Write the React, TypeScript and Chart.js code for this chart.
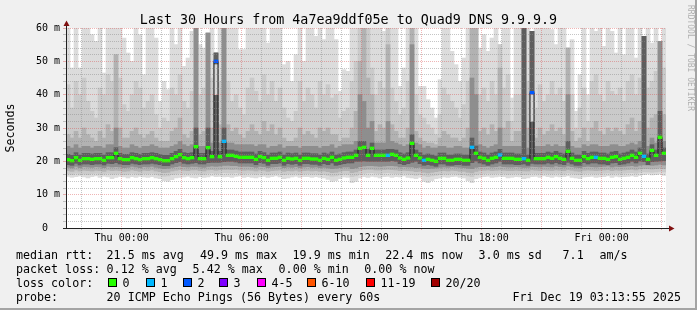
import React, { useEffect, useRef } from 'react';
import { Chart, registerables } from 'chart.js';

Chart.register(...registerables);

// time axis: minutes relative to Thu 00:00 (graph spans Wed 21:13 .. Fri 03:13)
const START_MIN = -167;
const END_MIN = 1633;
const STEP_MIN = 12;

// median rtt per 12-minute column (ms)
const MEDIAN = [
  20.5, 20.2, 21.1, 20.3, 20.8, 20.8, 20.6, 20.8, 20.8, 20.3,
  21.1, 21.1, 22.4, 20.8, 20.5, 20.5, 21.1, 20.8, 20.5, 20.8,
  20.8, 21.1, 20.8, 20.5, 20.2, 20.2, 20.8, 21.4, 22.0, 21.1,
  20.8, 21.1, 24.4, 20.8, 20.8, 24.1, 21.4, 50.0, 21.4, 26.0,
  21.8, 21.8, 21.5, 21.2, 21.2, 21.2, 21.2, 20.6, 21.4, 21.1,
  20.3, 20.9, 20.9, 21.2, 20.3, 20.9, 20.7, 20.9, 20.3, 20.9,
  20.9, 20.7, 20.7, 20.3, 20.9, 20.6, 21.2, 20.3, 20.6, 21.0,
  21.2, 21.2, 21.8, 23.9, 24.2, 21.8, 23.9, 21.8, 21.8, 21.8,
  21.8, 22.1, 21.8, 21.0, 20.6, 21.0, 25.4, 21.8, 21.0, 20.3,
  20.6, 20.3, 20.0, 20.9, 20.9, 20.3, 20.3, 20.6, 20.6, 20.3,
  20.3, 24.2, 22.4, 21.2, 20.9, 20.3, 20.9, 21.2, 21.9, 20.9,
  20.9, 20.9, 20.6, 20.6, 20.8, 20.3, 40.6, 20.8, 20.8, 20.8,
  21.2, 20.9, 21.4, 20.9, 20.6, 23.0, 20.9, 20.3, 20.3, 21.4,
  20.8, 21.2, 21.2, 20.9, 20.9, 20.6, 21.2, 21.4, 20.6, 20.9,
  21.2, 21.8, 21.2, 22.4, 21.5, 20.6, 23.3, 21.8, 27.2, 22.4,
];

// lost pings (of 20) per column
const LOSS = [
  0, 0, 0, 0, 0, 0, 0, 0, 0, 0,
  0, 0, 0, 0, 0, 0, 0, 0, 0, 0,
  0, 0, 0, 0, 0, 0, 0, 0, 0, 0,
  0, 0, 0, 0, 0, 0, 0, 2, 0, 1,
  0, 0, 0, 0, 0, 0, 0, 0, 0, 0,
  0, 0, 0, 0, 0, 0, 0, 0, 0, 0,
  0, 0, 0, 0, 0, 0, 0, 0, 0, 0,
  0, 0, 0, 0, 0, 0, 0, 0, 0, 0,
  1, 0, 0, 0, 0, 0, 0, 0, 0, 1,
  0, 0, 0, 0, 0, 0, 0, 0, 0, 0,
  0, 1, 0, 0, 0, 0, 0, 0, 1, 0,
  0, 0, 0, 0, 1, 0, 2, 0, 0, 0,
  0, 0, 0, 0, 0, 0, 0, 0, 0, 0,
  0, 0, 1, 0, 0, 0, 0, 0, 0, 0,
  0, 0, 0, 0, 1, 0, 0, 0, 0, 0,
];

// smoke: highest ping per column (values above 60 are off the chart)
const SMOKE_HI1 = [
  62, 48, 62, 48, 62, 62, 58, 56, 62, 46.5,
  62, 62, 62, 62, 57, 52.5, 50, 62, 58, 46,
  62, 62, 57, 38, 44, 41.5, 62, 55, 62, 48.5,
  51, 59, 62, 55, 54, 58.5, 62, 52.5, 62, 62,
  62, 62, 62, 53.5, 53.5, 62, 62, 62, 62, 62,
  55.5, 62, 62, 62, 49, 50, 44, 52, 62, 50,
  62, 62, 57.5, 62, 56.5, 62, 62, 56.5, 41, 47.5,
  47, 62, 62, 62, 62, 62, 62, 62, 62, 59,
  62, 62, 62, 42.5, 48, 62, 62, 62, 42.5, 42.5,
  38.5, 36, 33, 44.5, 62, 62, 53, 49, 44, 51,
  62, 62, 62, 54, 58, 53, 57, 62, 55, 62,
  62, 39, 62, 62, 62, 62, 59, 62, 62, 62,
  62, 59.5, 55, 62, 62, 54, 56.5, 35, 46, 62,
  40, 62, 59, 62, 54.5, 62, 59, 52.5, 62, 52,
  62, 62, 51, 62, 57.5, 62, 55.5, 62, 56, 62,
];
const SMOKE_HI2 = [
  43, 36, 44, 40, 45, 38, 35, 33, 42, 40,
  46, 44, 52, 45, 37, 35, 40, 44, 42, 36,
  38, 40, 34, 30, 33, 32, 42, 40, 46, 38,
  36, 41, 62, 40, 42, 58.5, 45, 52.5, 44, 62,
  44, 38, 40, 36, 34, 42, 45, 41, 38, 46,
  40, 44, 38, 42, 36, 33, 32, 35, 44, 38,
  42, 40, 36, 44, 40, 43, 39, 40, 33, 35,
  36, 44, 50, 62, 62, 62, 48, 40, 44, 42,
  62, 42, 38, 34, 36, 44, 62, 40, 34, 33,
  31, 30, 28, 34, 42, 40, 38, 36, 33, 37,
  44, 62, 62, 40, 42, 38, 44, 40, 55, 42,
  46, 32, 40, 40, 62, 44, 59, 36, 43, 38,
  40, 44, 40, 42, 38, 54, 40, 30, 36, 42,
  32, 44, 46, 40, 38, 44, 41, 40, 42, 38,
  44, 46, 40, 45, 57.5, 42, 44, 47, 56, 48,
];
const SMOKE_HI3 = [
  28, 27, 29, 27, 30, 28, 27, 26, 29, 27,
  31, 29, 52, 30, 27, 27, 29, 30, 28, 27,
  28, 29, 27, 26, 26, 26, 29, 30, 33, 28,
  27, 29, 62, 28, 29, 58.5, 30, 52.5, 31, 62,
  31, 29, 30, 28, 27, 29, 31, 29, 28, 32,
  29, 31, 28, 30, 27, 26, 26, 27, 30, 28,
  29, 28, 27, 30, 29, 30, 28, 28, 26, 27,
  27, 30, 35, 50, 62, 45, 40, 29, 31, 30,
  55, 31, 29, 27, 27, 30, 62, 29, 27, 26,
  25.5, 25.5, 25, 27, 29, 28, 27, 27, 26, 27,
  30, 62, 62, 29, 30, 28, 31, 29, 48, 30,
  32, 26, 29, 29, 62, 30, 59, 27, 30, 28,
  29, 31, 29, 30, 28, 54, 29, 26, 27, 30,
  26, 30, 32, 29, 28, 30, 29, 30, 29, 28,
  31, 33, 29, 32, 57.5, 30, 33, 34, 56, 34,
];
const SMOKE_HI4 = [
  24.5, 24, 25, 24, 24.5, 24.5, 24, 24.5, 24.5, 24,
  25, 25, 30, 24.5, 24, 24, 25, 24.5, 24, 24.5,
  24.5, 25, 24.5, 24, 24, 24, 24.5, 25, 26, 25,
  24.5, 25, 62, 24.5, 24.5, 58.5, 25.5, 52.5, 25.5, 62,
  25.5, 25.5, 25, 25, 25, 25, 25, 24.5, 25, 25,
  24, 24.5, 24.5, 25, 24, 24.5, 24.5, 24.5, 24, 24.5,
  24.5, 24.5, 24.5, 24, 24.5, 24.5, 25, 24, 24.5, 25,
  25, 25, 26, 40, 38, 30, 32, 25.5, 25.5, 25.5,
  32, 26, 25.5, 25, 24.5, 25, 55, 25.5, 25, 24,
  24.5, 24, 24, 24.5, 24.5, 24, 24, 24.5, 24.5, 24,
  24, 45, 40, 25, 24.5, 24, 24.5, 25, 30, 24.5,
  24.5, 24.5, 24.5, 24.5, 62, 24, 59, 24.5, 24.5, 24.5,
  25, 24.5, 25, 24.5, 24.5, 40, 24.5, 24, 24, 25,
  24.5, 25, 25, 24.5, 24.5, 24.5, 25, 25, 24.5, 24.5,
  25, 25.5, 25, 26, 57.5, 24.5, 27, 25.5, 56, 26,
];
const SMOKE_HI5 = [
  22.1, 21.8, 22.6, 21.9, 22.4, 22.4, 22.2, 22.4, 22.4, 21.9,
  22.6, 22.6, 24.1, 22.4, 22.1, 22.1, 22.6, 22.4, 22.1, 22.4,
  22.4, 22.6, 22.4, 22.1, 21.8, 21.8, 22.4, 23.0, 23.6, 22.6,
  22.4, 22.6, 30, 22.4, 22.4, 30, 23.0, 52.5, 23.0, 30,
  23.4, 23.4, 23.1, 22.8, 22.8, 22.8, 22.8, 22.2, 23.0, 22.6,
  21.9, 22.5, 22.5, 22.8, 21.9, 22.5, 22.3, 22.5, 21.9, 22.5,
  22.5, 22.3, 22.3, 21.9, 22.5, 22.2, 22.8, 21.9, 22.2, 22.6,
  22.8, 22.8, 23.4, 26, 26, 23.6, 25.5, 23.4, 23.4, 23.4,
  23.6, 23.6, 23.4, 22.6, 22.2, 22.6, 28, 23.4, 22.6, 21.9,
  22.2, 21.9, 21.6, 22.5, 22.5, 21.9, 21.9, 22.2, 22.2, 21.9,
  21.9, 27, 24.6, 22.8, 22.5, 21.9, 22.5, 22.8, 23.6, 22.5,
  22.5, 22.5, 22.2, 22.2, 62, 21.9, 59, 22.4, 22.4, 22.4,
  22.8, 22.5, 23.0, 22.5, 22.2, 26, 22.5, 21.9, 21.9, 23.0,
  22.4, 22.8, 22.8, 22.5, 22.5, 22.2, 22.8, 23.0, 22.2, 22.5,
  22.8, 23.4, 22.8, 24.0, 57.5, 22.2, 25, 23.4, 35, 24.0,
];
const SMOKE_LO1 = [
  15.5, 15.2, 15.4, 15.6, 15.3, 15.0, 15.4, 15.6, 15.2, 15.5,
  15.3, 14.8, 15.2, 15.5, 15.3, 15.0, 15.4, 15.2, 15.5, 15.3,
  15.2, 15.4, 15.0, 14.8, 14.2, 14.0, 14.5, 15.0, 15.2, 15.3,
  15.5, 15.2, 15.0, 15.4, 15.2, 15.3, 15.6, 15.4, 15.5, 15.3,
  15.4, 15.2, 15.5, 15.6, 15.2, 15.4, 15.2, 15.0, 15.3, 15.5,
  15.2, 15.4, 15.6, 15.3, 14.8, 15.0, 15.3, 15.5, 15.2, 15.4,
  15.4, 15.2, 15.4, 15.2, 15.0, 14.6, 14.0, 14.2, 14.8, 15.3,
  15.2, 13.6, 14.0, 15.0, 15.4, 15.2, 15.5, 15.3, 15.0, 15.4,
  15.5, 15.2, 15.4, 15.3, 15.6, 15.2, 15.0, 14.8, 15.2, 14.0,
  13.6, 14.2, 14.8, 15.0, 15.3, 15.2, 15.4, 15.5, 15.2, 15.0,
  14.2, 13.6, 14.8, 15.2, 15.4, 15.5, 15.2, 15.3, 15.5, 15.4,
  15.0, 15.2, 15.4, 15.3, 14.8, 15.0, 15.4, 15.5, 15.2, 15.6,
  15.4, 15.2, 15.5, 15.3, 15.4, 15.6, 15.2, 15.0, 14.8, 15.3,
  15.4, 15.5, 15.2, 15.3, 15.4, 15.6, 15.2, 15.5, 15.3, 15.4,
  15.5, 15.6, 15.4, 15.8, 16.0, 16.2, 15.9, 16.0, 16.2, 15.8,
];
const SMOKE_LO2 = [
  16.2, 16.0, 16.4, 16.1, 16.2, 16.0, 16.3, 16.4, 16.1, 16.2,
  16.4, 16.1, 16.2, 16.3, 16.0, 16.1, 16.4, 16.2, 16.0, 16.3,
  16.2, 16.4, 16.1, 15.8, 15.5, 15.6, 16.0, 16.2, 16.4, 16.3,
  16.2, 16.4, 16.3, 16.2, 16.1, 16.4, 16.5, 16.3, 16.4, 16.6,
  16.5, 16.4, 16.6, 16.3, 16.2, 16.4, 16.3, 16.1, 16.4, 16.2,
  16.0, 16.2, 16.3, 16.4, 16.0, 16.2, 16.1, 16.3, 16.0, 16.2,
  16.3, 16.1, 16.2, 16.0, 16.1, 15.8, 15.5, 15.6, 15.9, 16.2,
  16.1, 15.4, 15.6, 16.1, 16.4, 16.5, 16.6, 16.4, 16.3, 16.5,
  16.6, 16.4, 16.3, 16.2, 16.4, 16.2, 16.0, 15.8, 16.0, 15.6,
  15.4, 15.6, 15.8, 16.0, 16.2, 16.1, 16.3, 16.2, 16.0, 15.9,
  15.6, 15.4, 15.9, 16.2, 16.3, 16.4, 16.2, 16.3, 16.4, 16.3,
  16.1, 16.2, 16.3, 16.2, 16.0, 16.1, 16.4, 16.3, 16.2, 16.4,
  16.3, 16.2, 16.4, 16.3, 16.2, 16.5, 16.3, 16.1, 16.0, 16.3,
  16.4, 16.3, 16.2, 16.3, 16.4, 16.5, 16.2, 16.4, 16.3, 16.4,
  16.5, 16.6, 16.4, 16.7, 16.8, 16.8, 16.7, 16.8, 17.0, 16.8,
];
const SMOKE_LO3 = [
  17.2, 17.0, 17.4, 17.1, 17.3, 17.2, 17.1, 17.3, 17.2, 17.0,
  17.4, 17.2, 17.3, 17.2, 17.0, 17.1, 17.4, 17.2, 17.0, 17.3,
  17.2, 17.4, 17.1, 16.9, 16.6, 16.7, 17.1, 17.3, 17.5, 17.3,
  17.2, 17.4, 17.4, 17.2, 17.1, 17.4, 17.5, 17.3, 17.5, 17.6,
  17.6, 17.5, 17.6, 17.4, 17.3, 17.4, 17.3, 17.1, 17.4, 17.3,
  17.0, 17.2, 17.3, 17.4, 17.0, 17.2, 17.1, 17.3, 17.0, 17.2,
  17.3, 17.1, 17.2, 17.0, 17.1, 16.9, 16.6, 16.7, 17.0, 17.2,
  17.2, 16.6, 16.8, 17.2, 17.5, 17.6, 17.6, 17.4, 17.4, 17.5,
  17.6, 17.5, 17.4, 17.2, 17.3, 17.2, 17.1, 16.9, 17.0, 16.7,
  16.5, 16.7, 16.9, 17.1, 17.2, 17.1, 17.3, 17.2, 17.0, 17.0,
  16.7, 16.5, 17.0, 17.3, 17.3, 17.4, 17.2, 17.3, 17.4, 17.3,
  17.2, 17.2, 17.3, 17.2, 17.1, 17.1, 17.4, 17.3, 17.2, 17.4,
  17.3, 17.2, 17.4, 17.3, 17.2, 17.5, 17.3, 17.1, 17.0, 17.3,
  17.4, 17.3, 17.2, 17.3, 17.4, 17.5, 17.2, 17.4, 17.3, 17.4,
  17.5, 17.6, 17.4, 17.7, 17.8, 17.8, 17.7, 17.8, 18.0, 17.8,
];
const SMOKE_LO4 = [
  18.2, 18.0, 18.5, 18.1, 18.4, 18.3, 18.2, 18.4, 18.3, 18.1,
  18.5, 18.3, 18.4, 18.3, 18.1, 18.2, 18.5, 18.3, 18.1, 18.4,
  18.3, 18.5, 18.2, 18.0, 17.8, 17.9, 18.2, 18.4, 18.6, 18.4,
  18.3, 18.5, 18.5, 18.3, 18.2, 18.5, 18.6, 18.5, 18.6, 18.8,
  18.8, 18.7, 18.7, 18.5, 18.5, 18.5, 18.4, 18.2, 18.5, 18.4,
  18.1, 18.3, 18.4, 18.5, 18.1, 18.3, 18.2, 18.4, 18.1, 18.3,
  18.4, 18.2, 18.3, 18.1, 18.2, 18.0, 17.8, 17.9, 18.1, 18.3,
  18.3, 17.8, 18.0, 18.4, 18.6, 18.7, 18.7, 18.6, 18.5, 18.6,
  18.7, 18.7, 18.6, 18.3, 18.4, 18.3, 18.3, 18.1, 18.2, 17.9,
  17.8, 17.9, 18.0, 18.2, 18.3, 18.2, 18.4, 18.3, 18.2, 18.1,
  17.9, 17.8, 18.2, 18.4, 18.4, 18.5, 18.3, 18.4, 18.6, 18.4,
  18.3, 18.3, 18.4, 18.3, 18.2, 18.2, 18.5, 18.4, 18.3, 18.5,
  18.4, 18.3, 18.6, 18.4, 18.3, 18.6, 18.4, 18.2, 18.1, 18.4,
  18.5, 18.4, 18.3, 18.4, 18.5, 18.6, 18.3, 18.5, 18.4, 18.5,
  18.6, 18.7, 18.5, 18.8, 18.9, 18.9, 18.8, 18.9, 19.1, 18.9,
];
const SMOKE_LO5 = [
  19.0, 18.8, 19.4, 18.9, 19.2, 19.2, 19.0, 19.2, 19.2, 18.9,
  19.4, 19.3, 19.6, 19.2, 19.0, 19.0, 19.4, 19.2, 19.0, 19.2,
  19.2, 19.4, 19.2, 19.0, 18.7, 18.7, 19.2, 19.6, 19.9, 19.4,
  19.2, 19.4, 19.6, 19.2, 19.2, 19.6, 19.7, 19.7, 19.7, 19.9,
  20.0, 20.0, 19.8, 19.5, 19.5, 19.5, 19.5, 19.0, 19.6, 19.4,
  18.8, 19.3, 19.3, 19.5, 18.8, 19.3, 19.1, 19.3, 18.8, 19.3,
  19.3, 19.1, 19.1, 18.8, 19.3, 19.0, 19.5, 18.8, 19.0, 19.3,
  19.5, 19.5, 20.0, 20.0, 20.1, 20.0, 20.0, 20.0, 20.0, 20.0,
  20.0, 20.2, 20.0, 19.3, 19.0, 19.3, 19.7, 20.0, 19.3, 18.8,
  19.0, 18.8, 18.5, 19.2, 19.2, 18.8, 18.8, 19.0, 19.0, 18.8,
  18.8, 19.6, 20.1, 19.5, 19.2, 18.8, 19.2, 19.5, 20.0, 19.2,
  19.2, 19.2, 19.0, 19.0, 19.2, 18.8, 19.4, 19.2, 19.2, 19.2,
  19.5, 19.2, 19.6, 19.2, 19.0, 19.7, 19.2, 18.8, 18.8, 19.6,
  19.2, 19.5, 19.5, 19.2, 19.2, 19.0, 19.5, 19.6, 19.0, 19.2,
  19.5, 20.0, 19.5, 20.1, 19.9, 19.0, 19.9, 20.0, 20.1, 20.2,
];
// bimodal columns: empty stretch inside the smoke
const GAP_COLS = [37, 116];
const GAP_LO = [40, 32];
const GAP_HI = [49, 40];

const LOSS_LABELS = ['0', '1', '2', '3', '4-5', '6-10', '11-19', '20/20'];
const LOSS_MAX = [0, 1, 2, 3, 5, 10, 19, 20];
const LOSS_COLORS = ['#26ff00', '#00b8ff', '#0059ff', '#7e00ff', '#ff00ff', '#ff5500', '#ff0000', '#a10000'];

const X_TICK_VALUES = [0, 360, 720, 1080, 1440];
const X_TICK_LABELS = ['Thu 00:00', 'Thu 06:00', 'Thu 12:00', 'Thu 18:00', 'Fri 00:00'];
const Y_TICK_VALUES = [0, 10, 20, 30, 40, 50, 60];
const Y_TICK_LABELS = ['0  ', '10 m', '20 m', '30 m', '40 m', '50 m', '60 m'];

const TITLE = 'Last 30 Hours from 4a7ea9ddf05e to Quad9 DNS 9.9.9.9';
const Y_TITLE = 'Seconds';
const WATERMARK = 'RRDTOOL / TOBI OETIKER';

const LEGEND_ROWS: { y: number; items: [string, number][] }[] = [
  {
    y: 259,
    items: [
      ['median rtt:', 16], ['21.5 ms avg', 106.6], ['49.9 ms max', 200], ['19.9 ms min', 292.6],
      ['22.4 ms now', 385.3], ['3.0 ms sd', 478.6], ['7.1', 562.6], ['am/s', 599.4],
    ],
  },
  {
    y: 273,
    items: [['packet loss:', 16], ['0.12 % avg', 106.6], ['5.42 % max', 192.6], ['0.00 % min', 278.6], ['0.00 % now', 364.3]],
  },
  { y: 287, items: [['loss color:', 16]] },
  {
    y: 301,
    items: [['probe:', 16], ['20 ICMP Echo Pings (56 Bytes) every 60s', 106.6], ['Fri Dec 19 03:13:55 2025', 512.5]],
  },
];
const SWATCH_X = [108, 146, 183, 219, 257, 307, 366, 431];

const MONO = '"DejaVu Sans Mono", monospace';
const GRID_MINOR = 'rgba(140,140,140,0.5)';
const GRID_MAJOR = 'rgba(215,70,70,0.4)';

const colX = (i: number) => START_MIN + STEP_MIN * i + STEP_MIN / 2;
const band = (lo: number[], hi: number[]) => lo.map((v, i) => ({ x: colX(i), y: [v, hi[i]] }));
const lossClass = (n: number) => LOSS_MAX.findIndex((m) => n <= m);

const hourTicks: number[] = [];
for (let m = -120; m <= END_MIN; m += 60) hourTicks.push(m);
const yGridTicks: number[] = [];
for (let v = 0; v <= 60; v += 2) yGridTicks.push(v);

const rrdPlugin = {
  id: 'rrdLook',
  beforeDraw(chart: any) {
    const { ctx, chartArea: a, width, height } = chart;
    ctx.save();
    ctx.fillStyle = '#f0f0f0';
    ctx.fillRect(0, 0, width, height);
    ctx.fillStyle = '#a4a4a4';
    ctx.fillRect(width - 2, 0, 2, height);
    ctx.fillRect(0, height - 2, width, 2);
    ctx.fillStyle = '#ffffff';
    ctx.fillRect(a.left, a.top, a.right - a.left, a.bottom - a.top);
    ctx.restore();
  },
  afterDraw(chart: any) {
    const { ctx, chartArea: a } = chart;
    ctx.save();
    // axes
    ctx.fillStyle = '#202020';
    ctx.fillRect(a.left - 3, a.bottom, a.right + 3 - (a.left - 3), 1);
    ctx.fillRect(a.left, a.top - 3, 1, a.bottom - a.top + 4);
    ctx.fillStyle = '#801010';
    ctx.beginPath();
    ctx.moveTo(a.right + 3, a.bottom - 2.5);
    ctx.lineTo(a.right + 8.5, a.bottom + 0.5);
    ctx.lineTo(a.right + 3, a.bottom + 3.5);
    ctx.closePath();
    ctx.fill();
    ctx.beginPath();
    ctx.moveTo(a.left - 2.5, a.top - 2);
    ctx.lineTo(a.left + 0.5, a.top - 7.5);
    ctx.lineTo(a.left + 3.5, a.top - 2);
    ctx.closePath();
    ctx.fill();

    // title
    ctx.fillStyle = '#000';
    ctx.textBaseline = 'alphabetic';
    ctx.font = `13.33px ${MONO}`;
    ctx.textAlign = 'center';
    ctx.fillText(TITLE, 348.5, 24);

    // unit label
    ctx.font = `11.67px ${MONO}`;
    ctx.save();
    ctx.translate(14, (a.top + a.bottom) / 2);
    ctx.rotate(-Math.PI / 2);
    ctx.fillText(Y_TITLE, 0, 0);
    ctx.restore();

    // watermark
    ctx.save();
    ctx.font = `8px ${MONO}`;
    ctx.fillStyle = '#b0b0b0';
    ctx.textAlign = 'left';
    ctx.translate(687.5, 5);
    ctx.rotate(Math.PI / 2);
    ctx.fillText(WATERMARK, 0, 0);
    ctx.restore();

    // legend
    ctx.font = `11.67px ${MONO}`;
    ctx.textAlign = 'left';
    ctx.fillStyle = '#000';
    LEGEND_ROWS.forEach((row) => {
      row.items.forEach(([t, x]) => ctx.fillText(t, x, row.y));
    });
    const swY = 278;
    LOSS_LABELS.forEach((lab, k) => {
      const sx = SWATCH_X[k];
      ctx.fillStyle = LOSS_COLORS[k];
      ctx.fillRect(sx, swY, 9, 9);
      ctx.strokeStyle = '#000';
      ctx.lineWidth = 1;
      ctx.strokeRect(sx + 0.5, swY + 0.5, 8, 8);
      ctx.fillStyle = '#000';
      ctx.fillText(lab, sx + 14.5, 287);
    });
    ctx.restore();
  },
};

export default function App() {
  const ref = useRef<HTMLCanvasElement | null>(null);

  useEffect(() => {
    const canvas = ref.current;
    if (!canvas) return;
    Chart.defaults.font.family = MONO;

    const barBase = {
      type: 'bar' as const,
      grouped: false,
      barPercentage: 1,
      categoryPercentage: 1,
      borderWidth: 0,
      clip: 0,
    };

    const chart = new Chart(canvas, {
      type: 'bar',
      data: {
        datasets: [
          { ...barBase, label: 'smoke 1', data: band(SMOKE_LO1, SMOKE_HI1), backgroundColor: '#dcdcdc', order: 20 },
          { ...barBase, label: 'smoke 2', data: band(SMOKE_LO2, SMOKE_HI2), backgroundColor: '#cacaca', order: 19 },
          { ...barBase, label: 'smoke 3', data: band(SMOKE_LO3, SMOKE_HI3), backgroundColor: '#b2b2b2', order: 18 },
          { ...barBase, label: 'smoke 4', data: band(SMOKE_LO4, SMOKE_HI4), backgroundColor: '#8e8e8e', order: 17 },
          { ...barBase, label: 'smoke 5', data: band(SMOKE_LO5, SMOKE_HI5), backgroundColor: '#5e5e5e', order: 16 },
          {
            ...barBase,
            label: 'gap',
            data: GAP_COLS.map((c, k) => ({ x: colX(c), y: [GAP_LO[k], GAP_HI[k]] })),
            backgroundColor: '#d4d4d4',
            order: 15,
          },
          {
            type: 'line',
            label: 'median outline',
            data: MEDIAN.map((v, i) => ({ x: colX(i), y: v })),
            stepped: 'middle',
            borderColor: '#1c1c1c',
            borderWidth: 1,
            pointRadius: 0,
            fill: false,
            order: 2,
            clip: 0,
          } as any,
          {
            ...barBase,
            label: 'median rtt',
            data: MEDIAN.map((v, i) => ({ x: colX(i), y: [v - 0.4, v + 0.4] })),
            backgroundColor: LOSS.map((n) => LOSS_COLORS[lossClass(n)]),
            order: 1,
          },
        ] as any,
      },
      options: {
        responsive: false,
        animation: false,
        devicePixelRatio: 1,
        events: [],
        layout: { padding: { top: 28, left: 0, right: 31, bottom: 0 }, autoPadding: false } as any,
        plugins: {
          legend: { display: false },
          title: { display: false },
          tooltip: { enabled: false },
        },
        scales: {
          x: {
            type: 'linear',
            min: START_MIN,
            max: END_MIN,
            offset: false,
            afterBuildTicks: (s: any) => {
              s.ticks = hourTicks.map((v) => ({ value: v }));
            },
            afterFit: (s: any) => {
              s.height = 82;
            },
            grid: {
              offset: false,
              z: 1,
              color: (c: any) => (c.tick && c.tick.value % 180 === 0 ? GRID_MAJOR : GRID_MINOR),
              tickColor: (c: any) => (c.tick && c.tick.value % 180 === 0 ? GRID_MAJOR : GRID_MINOR),
              lineWidth: 1,
              drawTicks: true,
              tickLength: 2,
            },
            border: { display: false, dash: [1, 1] },
            ticks: {
              autoSkip: false,
              maxRotation: 0,
              minRotation: 0,
              padding: 2.5,
              color: '#000',
              font: { family: MONO, size: 10 },
              callback: (v: any) => {
                const k = X_TICK_VALUES.indexOf(Number(v));
                return k >= 0 ? X_TICK_LABELS[k] : '';
              },
            },
          } as any,
          y: {
            type: 'linear',
            position: 'left',
            min: 0,
            max: 60,
            afterBuildTicks: (s: any) => {
              s.ticks = yGridTicks.map((v) => ({ value: v }));
            },
            afterFit: (s: any) => {
              s.width = 66;
            },
            grid: {
              z: 1,
              color: (c: any) => (c.tick && c.tick.value % 10 === 0 ? GRID_MAJOR : GRID_MINOR),
              tickColor: (c: any) => (c.tick && c.tick.value % 10 === 0 ? GRID_MAJOR : GRID_MINOR),
              lineWidth: 1,
              drawTicks: true,
              tickLength: 3,
            },
            border: { display: false, dash: [1, 1] },
            ticks: {
              autoSkip: false,
              padding: 3,
              color: '#000',
              font: { family: MONO, size: 10 },
              callback: (v: any) => {
                const k = Y_TICK_VALUES.indexOf(Number(v));
                return k >= 0 ? Y_TICK_LABELS[k] : '';
              },
            },
          } as any,
        },
      },
      plugins: [rrdPlugin],
    });

    return () => chart.destroy();
  }, []);

  return (
    <div style={{ position: 'absolute', left: 0, top: 0, width: 697, height: 310 }}>
      <canvas ref={ref} width={697} height={310} style={{ display: 'block', width: 697, height: 310 }} />
    </div>
  );
}
